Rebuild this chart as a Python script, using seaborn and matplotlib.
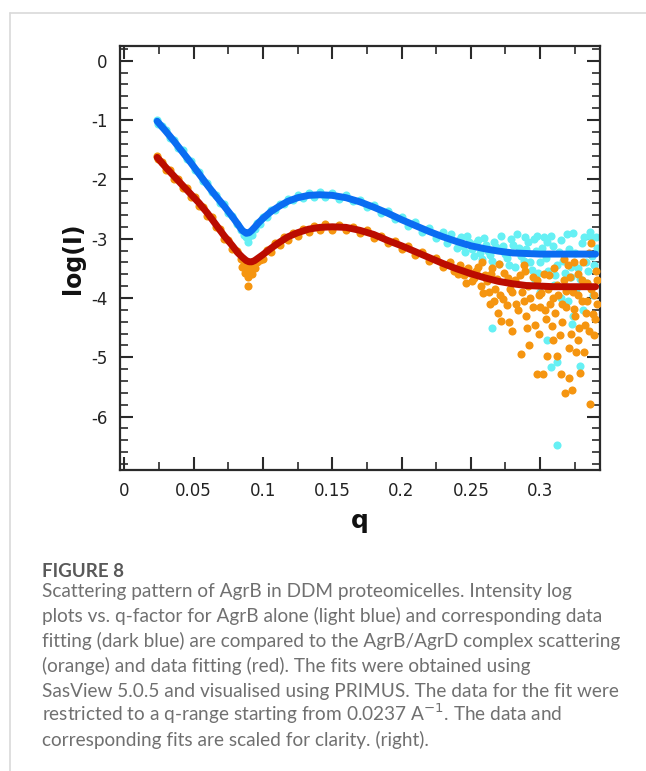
import matplotlib
matplotlib.use("Agg")
import matplotlib.pyplot as plt
from matplotlib.lines import Line2D
from matplotlib.ticker import MultipleLocator, FixedLocator, FixedFormatter
import seaborn as sns
import pandas as pd

# AgrB alone: measured points (light blue)
cyan_q = [0.0237, 0.0245, 0.027, 0.030, 0.033, 0.036, 0.039, 0.042, 0.045, 0.048,
          0.051, 0.054, 0.057, 0.060, 0.063, 0.066, 0.069, 0.072, 0.075, 0.078,
          0.081, 0.084, 0.086, 0.088, 0.0895, 0.090, 0.092, 0.094, 0.096, 0.098,
          0.100, 0.103, 0.106, 0.109, 0.112, 0.115, 0.118, 0.122, 0.125, 0.129,
          0.133, 0.137, 0.141, 0.145, 0.150, 0.155, 0.160, 0.165, 0.170, 0.175,
          0.180, 0.185, 0.190, 0.195, 0.200, 0.205, 0.210, 0.215, 0.220, 0.225,
          0.230, 0.233, 0.236, 0.240, 0.243, 0.246, 0.249, 0.252, 0.255, 0.258,
          0.261, 0.264, 0.267, 0.270, 0.273, 0.276, 0.279, 0.282, 0.285, 0.288,
          0.291, 0.294, 0.297, 0.300, 0.303, 0.306, 0.309, 0.312, 0.315, 0.318,
          0.321, 0.324, 0.327, 0.330, 0.333, 0.336, 0.339, 0.341,
          0.2415, 0.2445, 0.2475, 0.2505, 0.2535, 0.2565, 0.2595, 0.2625, 0.2655, 0.2685,
          0.2715, 0.2745, 0.2775, 0.2805, 0.2835, 0.2865, 0.2895, 0.2925, 0.2955, 0.2985,
          0.3015, 0.3045, 0.3075, 0.3105, 0.3135, 0.3165, 0.3195, 0.3225, 0.3255, 0.3285,
          0.3315, 0.3345, 0.3375, 0.3405, 0.318, 0.326, 0.310, 0.296, 0.338, 0.331,
          0.3225, 0.2975, 0.336, 0.305, 0.289,
          0.265, 0.305, 0.308, 0.312, 0.3125, 0.323, 0.324, 0.329, 0.320, 0.300,
          0.334, 0.315]
cyan_logI = [-1.00, -1.06, -1.10, -1.16, -1.30, -1.33, -1.47, -1.51, -1.66, -1.69,
             -1.84, -1.88, -2.03, -2.07, -2.22, -2.26, -2.40, -2.42, -2.56, -2.62,
             -2.76, -2.86, -2.93, -2.98, -3.06, -2.96, -2.93, -2.84, -2.73, -2.76,
             -2.64, -2.63, -2.51, -2.52, -2.41, -2.42, -2.33, -2.35, -2.27, -2.31,
             -2.23, -2.30, -2.22, -2.30, -2.23, -2.33, -2.27, -2.37, -2.34, -2.46,
             -2.43, -2.56, -2.54, -2.67, -2.63, -2.78, -2.72, -2.89, -2.82, -2.99,
             -2.88, -3.08, -2.92, -3.15, -2.98, -3.22, -3.05, -3.30, -3.02, -3.35,
             -3.10, -3.28, -3.05, -3.42, -3.12, -3.33, -3.00, -3.48, -3.15, -3.38,
             -3.05, -3.52, -3.20, -3.40, -2.98, -3.55, -3.12, -3.45, -3.02, -3.58,
             -3.18, -2.90, -3.50, -3.08, -3.40, -2.95, -3.45, -3.15,
             -3.02, -3.12, -2.96, -3.18, -3.08, -3.25, -2.99, -3.20, -3.38, -3.14,
             -2.95, -3.26, -3.45, -3.10, -2.92, -3.30, -3.18, -3.40, -3.00, -3.58,
             -3.15, -3.32, -2.95, -3.62, -3.22, -3.38, -2.92, -3.48, -3.25, -3.68,
             -2.97, -3.55, -3.30, -2.98, -3.80, -3.85, -3.78, -3.70, -3.95, -4.20,
             -3.65, -2.95, -2.88, -3.05, -2.97,
             -4.50, -4.71, -5.17, -5.08, -6.48, -4.44, -4.30, -5.14, -4.05, -3.90,
             -3.75, -4.00]

# AgrB/AgrD complex: measured points (orange)
orange_q = [0.0237, 0.0245, 0.027, 0.030, 0.033, 0.036, 0.039, 0.042, 0.045, 0.048,
            0.051, 0.054, 0.057, 0.060, 0.063, 0.066, 0.069, 0.072, 0.075, 0.078,
            0.081, 0.084, 0.085, 0.086, 0.087, 0.088, 0.089, 0.0895, 0.090, 0.091,
            0.092, 0.093, 0.094, 0.096, 0.098, 0.100, 0.103, 0.106, 0.109, 0.112,
            0.115, 0.118, 0.122, 0.125, 0.129, 0.133, 0.137, 0.141, 0.145, 0.150,
            0.155, 0.160, 0.165, 0.170, 0.175, 0.180, 0.185, 0.190, 0.195, 0.200,
            0.205, 0.210, 0.215, 0.220, 0.225, 0.230, 0.235, 0.238,
            0.242, 0.245, 0.248, 0.251, 0.254, 0.257, 0.258, 0.260, 0.263, 0.265,
            0.267, 0.269, 0.271, 0.272, 0.274, 0.276, 0.278, 0.280, 0.282, 0.284,
            0.286, 0.287, 0.289, 0.290, 0.292, 0.293, 0.295, 0.296, 0.298, 0.299,
            0.300, 0.302, 0.303, 0.304, 0.305, 0.306, 0.307, 0.309, 0.310, 0.311,
            0.312, 0.313, 0.315, 0.316, 0.317, 0.318, 0.319, 0.320, 0.321, 0.322,
            0.323, 0.324, 0.325, 0.326, 0.327, 0.328, 0.329, 0.330, 0.331, 0.332,
            0.333, 0.334, 0.335, 0.336, 0.337, 0.338, 0.339, 0.340, 0.341,
            0.2405, 0.2435, 0.2465, 0.2495, 0.2525, 0.2555, 0.2585, 0.2615, 0.2645, 0.2675,
            0.2705, 0.2735, 0.2765, 0.2795, 0.2825, 0.2855, 0.2885, 0.2915, 0.2945, 0.2975,
            0.3005, 0.3035, 0.3065, 0.3095, 0.3125, 0.3155, 0.3185, 0.3215, 0.3245, 0.3275,
            0.3305, 0.3335, 0.3365, 0.3395, 0.3410, 0.2635, 0.2695, 0.2775, 0.2905, 0.2995,
            0.3085, 0.3145, 0.3205, 0.3275, 0.3325, 0.3385, 0.2885, 0.3175, 0.3355, 0.3245]
orange_logI = [-1.60, -1.66, -1.70, -1.84, -1.85, -1.99, -2.00, -2.14, -2.15, -2.29,
               -2.30, -2.45, -2.46, -2.62, -2.64, -2.81, -2.83, -3.00, -3.02, -3.17,
               -3.20, -3.35, -3.48, -3.40, -3.58, -3.45, -3.64, -3.80, -3.52, -3.46,
               -3.60, -3.44, -3.50, -3.40, -3.36, -3.34, -3.19, -3.23, -3.08, -3.11,
               -2.98, -3.02, -2.90, -2.95, -2.83, -2.89, -2.78, -2.86, -2.76, -2.85,
               -2.77, -2.86, -2.80, -2.91, -2.86, -2.99, -2.95, -3.08, -3.04, -3.17,
               -3.13, -3.27, -3.23, -3.38, -3.33, -3.48, -3.40, -3.55,
               -3.45, -3.62, -3.50, -3.72, -3.55, -3.80, -3.39, -3.62, -3.90, -3.50,
               -4.05, -3.68, -3.95, -4.38, -3.58, -4.12, -3.85, -4.56, -3.70, -4.20,
               -4.94, -3.90, -3.55, -4.30, -4.79, -4.00, -3.65, -4.45, -5.29, -3.95,
               -4.15, -5.29, -3.60, -4.35, -4.97, -3.85, -4.10, -4.71, -3.50, -4.25,
               -4.97, -3.95, -5.29, -4.40, -3.70, -5.61, -4.15, -3.45, -5.35, -4.60,
               -5.55, -3.90, -4.30, -4.91, -3.60, -4.50, -5.26, -4.05, -3.40, -4.91,
               -4.25, -3.75, -4.56, -5.78, -3.07, -4.27, -3.95, -3.55, -4.10,
               -3.60, -3.52, -3.75, -3.58, -3.66, -3.48, -3.92, -3.72, -3.60, -3.85,
               -3.42, -4.02, -3.66, -3.90, -4.10, -3.62, -4.05, -3.80, -4.15, -3.70,
               -3.92, -4.20, -3.62, -4.00, -3.78, -4.10, -3.88, -3.65, -4.18, -3.95,
               -3.70, -4.05, -3.85, -4.35, -3.70, -4.10, -4.25, -4.40, -4.50, -4.60,
               -4.48, -4.62, -4.85, -4.70, -4.45, -4.62, -3.45, -3.35, -3.25, -3.40]

# fitted curves (dark blue = AgrB, red = AgrB/AgrD)
fit_q = [0.0237, 0.030, 0.036, 0.042, 0.048, 0.054, 0.060, 0.066, 0.072, 0.078,
         0.082, 0.085, 0.088, 0.090, 0.092, 0.094, 0.097, 0.100, 0.106, 0.112,
         0.118, 0.125, 0.133, 0.141, 0.150, 0.160, 0.170, 0.180, 0.190, 0.200,
         0.210, 0.220, 0.230, 0.240, 0.250, 0.260, 0.270, 0.280, 0.290, 0.300,
         0.310, 0.320, 0.330, 0.340]
fit_blue = [-1.02, -1.19, -1.36, -1.54, -1.72, -1.91, -2.10, -2.28, -2.45, -2.63,
            -2.76, -2.86, -2.91, -2.90, -2.86, -2.81, -2.73, -2.66, -2.54, -2.45,
            -2.37, -2.31, -2.27, -2.26, -2.27, -2.31, -2.38, -2.47, -2.57, -2.68,
            -2.78, -2.88, -2.97, -3.05, -3.12, -3.17, -3.21, -3.24, -3.25, -3.26,
            -3.26, -3.26, -3.26, -3.26]
fit_red = [-1.63, -1.80, -1.95, -2.10, -2.25, -2.40, -2.57, -2.76, -2.95, -3.12,
           -3.24, -3.31, -3.37, -3.39, -3.39, -3.37, -3.32, -3.27, -3.16, -3.06,
           -2.97, -2.90, -2.84, -2.81, -2.80, -2.81, -2.86, -2.93, -3.03, -3.12,
           -3.22, -3.32, -3.42, -3.51, -3.59, -3.66, -3.72, -3.76, -3.79, -3.80,
           -3.81, -3.81, -3.81, -3.81]

x_ticks = [0, 0.05, 0.1, 0.15, 0.2, 0.25, 0.3]
x_ticklabels = ["0", "0.05", "0.1", "0.15", "0.2", "0.25", "0.3"]
y_ticks = [0, -1, -2, -3, -4, -5, -6]
y_ticklabels = ["0", "-1", "-2", "-3", "-4", "-5", "-6"]

caption_title = "FIGURE 8"
caption_lines = [
    "Scattering pattern of AgrB in DDM proteomicelles. Intensity log",
    "plots vs. q-factor for AgrB alone (light blue) and corresponding data",
    "fitting (dark blue) are compared to the AgrB/AgrD complex scattering",
    "(orange) and data fitting (red). The fits were obtained using",
    "SasView 5.0.5 and visualised using PRIMUS. The data for the fit were",
    "restricted to a q-range starting from 0.0237 A$^{-1}$. The data and",
    "corresponding fits are scaled for clarity. (right).",
]

sns.set_theme(style="ticks")
plt.rcParams["font.family"] = ["DejaVu Sans"]
plt.rcParams["axes.unicode_minus"] = False

W, H = 646, 771
fig = plt.figure(figsize=(W / 100, H / 100), dpi=100)
fig.patch.set_facecolor("white")

# page card border
fig.add_artist(Line2D([9.5 / W, 1], [1 - 12.5 / H, 1 - 12.5 / H],
                      transform=fig.transFigure, color="#d9d9d9", lw=1.2))
fig.add_artist(Line2D([9.5 / W, 9.5 / W], [0, 1 - 12.5 / H],
                      transform=fig.transFigure, color="#d9d9d9", lw=1.2))

ax = fig.add_axes([120 / W, (H - 470) / H, 480.3 / W, 424.3 / H])

sns.scatterplot(x=cyan_q, y=cyan_logI, color="#66f0f4", s=34, linewidth=0,
                ax=ax, zorder=2)
sns.scatterplot(x=orange_q, y=orange_logI, color="#f59510", s=34, linewidth=0,
                ax=ax, zorder=3)
sns.lineplot(x=fit_q, y=fit_blue, sort=False, estimator=None, color="#0a6cf2",
             lw=5.0, solid_capstyle="round", ax=ax, zorder=4)
sns.lineplot(x=fit_q, y=fit_red, sort=False, estimator=None, color="#bb0c00",
             lw=5.0, solid_capstyle="round", ax=ax, zorder=5)

ax.set_xlim(-0.0031, 0.3434)
ax.set_ylim(-6.90, 0.253)

ax.xaxis.set_major_locator(FixedLocator(x_ticks))
ax.xaxis.set_major_formatter(FixedFormatter(x_ticklabels))
ax.xaxis.set_minor_locator(MultipleLocator(0.025))
ax.yaxis.set_major_locator(FixedLocator(y_ticks))
ax.yaxis.set_major_formatter(FixedFormatter(y_ticklabels))
ax.yaxis.set_minor_locator(MultipleLocator(0.2))

ax.tick_params(which="both", direction="in", top=True, right=True,
               colors="#2a2a2a", labelcolor="#222222", labelsize=12)
ax.tick_params(which="major", length=9.5, width=1.5)
ax.tick_params(which="minor", length=6, width=1.2)
ax.tick_params(axis="x", which="major", pad=9)
ax.tick_params(axis="y", which="major", pad=9)
for sp in ax.spines.values():
    sp.set_linewidth(1.6)
    sp.set_color("#2a2a2a")

ax.set_xlabel("q", fontsize=18, fontweight="bold", color="#111111")
ax.set_ylabel("log(I)", fontsize=17, fontweight="bold", color="#111111")
ax.xaxis.set_label_coords(0.5, -0.092)
ax.yaxis.set_label_coords(-0.072, 0.5)

# caption below the chart
cap_x = 42 / W
fig.text(cap_x, 1 - 576.7 / H, caption_title, fontsize=13.5, fontweight="bold",
         color="#595959", family=["Lato", "DejaVu Sans"], va="baseline")
texts = []
for i, line in enumerate(caption_lines):
    t = fig.text(cap_x, 1 - (597 + 24.9 * i) / H, line, fontsize=12,
                 color="#707070", family=["Lato", "DejaVu Sans"], va="baseline")
    texts.append(t)

# scale caption font so the widest line spans like the reference
fig.canvas.draw()
r = fig.canvas.get_renderer()
w = texts[2].get_window_extent(r).width
scale = 577 / w
for t in texts:
    t.set_fontsize(12 * scale)

fig.savefig("out.png", dpi=100)
